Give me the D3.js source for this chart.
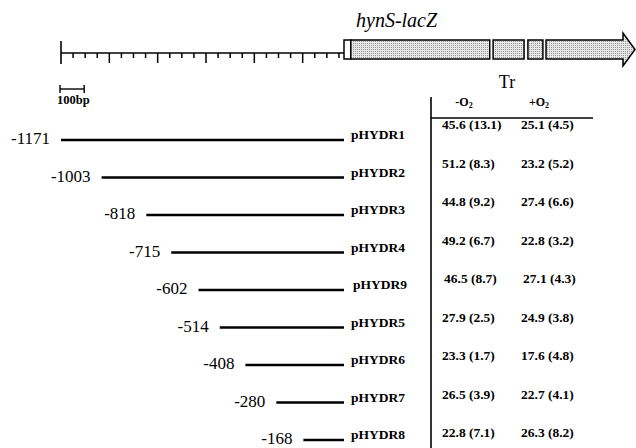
<!DOCTYPE html>
<html>
<head>
<meta charset="utf-8">
<script src="https://cdnjs.cloudflare.com/ajax/libs/d3/7.8.5/d3.min.js"></script>
<style>
  html, body { margin: 0; padding: 0; background: #fff; }
  svg { display: block; font-family: "Liberation Serif", "Times New Roman", serif; }
</style>
</head>
<body>
<svg id="chart" width="636" height="448"></svg>
<script>
// deletion constructs, upstream start (bp) of each fragment
const constructs = ['pHYDR1', 'pHYDR2', 'pHYDR3', 'pHYDR4', 'pHYDR9', 'pHYDR5', 'pHYDR6', 'pHYDR7', 'pHYDR8'];
const starts = [-1171, -1003, -818, -715, -602, -514, -408, -280, -168];

// transcription (Tr) without / with oxygen: mean and SD
const meanMinusO2 = [45.6, 51.2, 44.8, 49.2, 46.5, 27.9, 23.3, 26.5, 22.8];
const sdMinusO2 = [13.1, 8.3, 9.2, 6.7, 8.7, 2.5, 1.7, 3.9, 7.1];
const meanPlusO2 = [25.1, 23.2, 27.4, 22.8, 27.1, 24.9, 17.6, 22.7, 26.3];
const sdPlusO2 = [4.5, 5.2, 6.6, 3.2, 4.3, 3.8, 4.8, 4.1, 8.2];

// hynS-lacZ gene blocks (bp from the start), last one is the arrow
const geneBlocks = [
  { from: 0, to: 28, kind: 'open' },
  { from: 28, to: 603, kind: 'gray' },
  { from: 617, to: 745, kind: 'gray' },
  { from: 761, to: 823, kind: 'gray' },
  { from: 836, to: 1210, kind: 'arrow' }
];
const rulerStart = -1171;
const tickStep = 50;
const majorStep = 200;

const svg = d3.select('#chart');
const W = 636, H = 448;

svg.append('rect').attr('width', W).attr('height', H).attr('fill', '#fff');

// stipple fill for the gene boxes
const defs = svg.append('defs');
const pat = defs.append('pattern')
  .attr('id', 'stipple')
  .attr('width', 2).attr('height', 2)
  .attr('patternUnits', 'userSpaceOnUse');
pat.append('rect').attr('width', 2).attr('height', 2).attr('fill', '#e6e6e6');
pat.append('rect').attr('x', 1).attr('y', 1).attr('width', 1).attr('height', 1).attr('fill', '#9a9a9a');

// bp -> px
const x = d3.scaleLinear().domain([rulerStart, 0]).range([61, 344]);
const bpPx = x(100) - x(0);

// rows of the fragments
const y = d3.scalePoint().domain(constructs).range([140, 440]);
// rows of the table values
const yT = d3.scalePoint().domain(constructs).range([129, 437]);

// ---- ruler
const rulerY = 53;
const ruler = svg.append('g').attr('stroke', '#000');
ruler.append('line')
  .attr('x1', x(rulerStart)).attr('x2', x(0))
  .attr('y1', rulerY).attr('y2', rulerY)
  .attr('stroke-width', 1.6);
ruler.append('line')
  .attr('x1', x(rulerStart)).attr('x2', x(rulerStart))
  .attr('y1', 41).attr('y2', 64)
  .attr('stroke-width', 1.6);
const ticks = d3.range(rulerStart + tickStep, 0, tickStep);
ruler.selectAll('line.tick')
  .data(ticks)
  .enter().append('line')
  .attr('class', 'tick')
  .attr('x1', d => x(d)).attr('x2', d => x(d))
  .attr('y1', rulerY)
  .attr('y2', d => ((d - rulerStart) % majorStep === 0) ? rulerY + 10 : rulerY + 5)
  .attr('stroke-width', 1.5);

// ---- gene boxes
const boxTop = 40, boxBot = 59, mid = (boxTop + boxBot) / 2;
const genes = svg.append('g');
geneBlocks.forEach(b => {
  if (b.kind === 'arrow') {
    const x0 = x(b.from), x1 = Math.min(x(b.to), W - 1), xh = x1 - 12;
    genes.append('path')
      .attr('d', `M${x0},${boxTop}L${xh},${boxTop}L${xh},${boxTop - 7}L${x1},${mid}L${xh},${boxBot + 7}L${xh},${boxBot}L${x0},${boxBot}Z`)
      .attr('fill', 'url(#stipple)')
      .attr('stroke', '#000')
      .attr('stroke-width', 1.5);
  } else {
    genes.append('rect')
      .attr('x', x(b.from)).attr('y', boxTop)
      .attr('width', x(b.to) - x(b.from)).attr('height', boxBot - boxTop)
      .attr('fill', b.kind === 'open' ? '#fff' : 'url(#stipple)')
      .attr('stroke', '#000')
      .attr('stroke-width', 1.5);
  }
});
svg.append('text')
  .attr('x', 356).attr('y', 27)
  .attr('font-style', 'italic')
  .attr('font-size', 20)
  .text('hynS-lacZ');

// ---- 100bp scale bar
const sb = svg.append('g').attr('stroke', '#000').attr('stroke-width', 1.4);
sb.append('line').attr('x1', 60).attr('x2', 60 + bpPx).attr('y1', 89).attr('y2', 89);
sb.append('line').attr('x1', 60).attr('x2', 60).attr('y1', 85).attr('y2', 93);
sb.append('line').attr('x1', 60 + bpPx).attr('x2', 60 + bpPx).attr('y1', 85).attr('y2', 93);
svg.append('text')
  .attr('x', 57).attr('y', 104)
  .attr('font-weight', 'bold').attr('font-size', 12.5)
  .text('100bp');

// ---- fragments
const rows = svg.append('g');
const row = rows.selectAll('g.row')
  .data(constructs)
  .enter().append('g')
  .attr('class', 'row');
row.append('line')
  .attr('x1', (d, i) => x(starts[i]))
  .attr('x2', x(0))
  .attr('y1', d => y(d)).attr('y2', d => y(d))
  .attr('stroke', '#000')
  .attr('stroke-width', 2.4);
row.append('text')
  .attr('x', (d, i) => x(starts[i]) - 11)
  .attr('y', d => y(d) + 4)
  .attr('text-anchor', 'end')
  .attr('font-size', 17)
  .text((d, i) => starts[i]);
row.append('text')
  .attr('x', d => d === 'pHYDR9' ? 353 : 351)
  .attr('y', d => y(d) - 1)
  .attr('font-weight', 'bold')
  .attr('font-size', 13.5)
  .text(d => d);

// ---- table
const tbl = svg.append('g');
tbl.append('line')
  .attr('x1', 431).attr('x2', 431).attr('y1', 97).attr('y2', H)
  .attr('stroke', '#000').attr('stroke-width', 1.6);
tbl.append('line')
  .attr('x1', 431).attr('x2', 593).attr('y1', 118).attr('y2', 118)
  .attr('stroke', '#000').attr('stroke-width', 1.6);
tbl.append('text')
  .attr('x', 507).attr('y', 88)
  .attr('text-anchor', 'middle')
  .attr('font-size', 18)
  .text('Tr');

const headers = [{ label: '-O', cx: 464 }, { label: '+O', cx: 539 }];
headers.forEach(h => {
  const t = tbl.append('text')
    .attr('x', h.cx).attr('y', 106)
    .attr('text-anchor', 'middle')
    .attr('font-weight', 'bold')
    .attr('font-size', 12);
  t.append('tspan').text(h.label);
  t.append('tspan').attr('font-size', 8).attr('dy', 2).text('2');
});

const fmt = (m, s) => `${m.toFixed(1)} (${s.toFixed(1)})`;
tbl.selectAll('text.minus')
  .data(constructs)
  .enter().append('text')
  .attr('class', 'minus')
  .attr('x', d => d === 'pHYDR9' ? 444 : 442)
  .attr('y', d => yT(d))
  .attr('font-weight', 'bold')
  .attr('font-size', 13.5)
  .text((d, i) => fmt(meanMinusO2[i], sdMinusO2[i]));
tbl.selectAll('text.plus')
  .data(constructs)
  .enter().append('text')
  .attr('class', 'plus')
  .attr('x', d => d === 'pHYDR9' ? 523 : 521)
  .attr('y', d => yT(d))
  .attr('font-weight', 'bold')
  .attr('font-size', 13.5)
  .text((d, i) => fmt(meanPlusO2[i], sdPlusO2[i]));
</script>
</body>
</html>
